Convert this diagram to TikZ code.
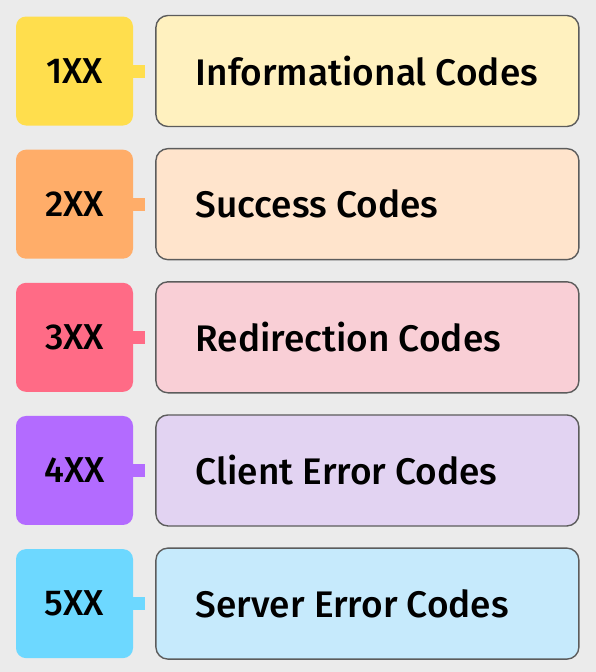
\documentclass[tikz,border=0pt]{standalone}
\usepackage{fontspec}
\setmainfont{Fira Sans}[UprightFont=* Medium]
\usepackage{tikz}
\usetikzlibrary{positioning}
\definecolor{hcbg}{HTML}{EBEBEB}
\definecolor{hcedge}{HTML}{5C5C5C}
\definecolor{hcyellow}{HTML}{FFDE4D}
\definecolor{hcyellowl}{HTML}{FFF1BF}
\definecolor{hcorange}{HTML}{FFAD69}
\definecolor{hcorangel}{HTML}{FFE4CC}
\definecolor{hcpink}{HTML}{FF6B86}
\definecolor{hcpinkl}{HTML}{F9CFD6}
\definecolor{hcpurple}{HTML}{B36BFF}
\definecolor{hcpurplel}{HTML}{E2D3F2}
\definecolor{hccyan}{HTML}{6DD8FF}
\definecolor{hccyanl}{HTML}{C6EAFC}
\tikzset{
  code/.style={draw=none,rounded corners=10pt,minimum width=117pt,minimum height=109pt,
               inner sep=0pt,font=\fontsize{36}{40}\selectfont},
  desc/.style={draw=hcedge,line width=1.4pt,rounded corners=12pt,minimum width=423pt,
               minimum height=111pt,inner xsep=40pt,
               execute at begin node={\hbox to 343pt\bgroup},
               execute at end node={\hss\egroup},
               font=\fontsize{37}{42}\selectfont},
  tab/.style={line width=13pt},
}
\begin{document}
\begin{tikzpicture}[x=1pt,y=-1pt,node distance=23.75pt and 22pt]
    \fill[hcbg] (0,0) rectangle (596,672);
    \useasboundingbox (0,0) rectangle (596,672);
    \node[code,fill=hcyellow] (c1) at (74.5,71) {1XX};
    \node[code,fill=hcorange,below=of c1] (c2) {2XX};
    \node[code,fill=hcpink,below=of c2] (c3) {3XX};
    \node[code,fill=hcpurple,below=of c3] (c4) {4XX};
    \node[code,fill=hccyan,below=of c4] (c5) {5XX};
    \node[desc,fill=hcyellowl,right=of c1] (b1) {Informational Codes};
    \node[desc,fill=hcorangel,right=of c2] (b2) {Success Codes};
    \node[desc,fill=hcpinkl,right=of c3] (b3) {Redirection Codes};
    \node[desc,fill=hcpurplel,right=of c4] (b4) {Client Error Codes};
    \node[desc,fill=hccyanl,right=of c5] (b5) {Server Error Codes};
    % little tabs between code and box
    \draw[tab,hcyellow] (c1.east) -- ++(12,0);
    \draw[tab,hcorange] (c2.east) -- ++(12,0);
    \draw[tab,hcpink] (c3.east) -- ++(12,0);
    \draw[tab,hcpurple] (c4.east) -- ++(12,0);
    \draw[tab,hccyan] (c5.east) -- ++(12,0);
\end{tikzpicture}
\end{document}
